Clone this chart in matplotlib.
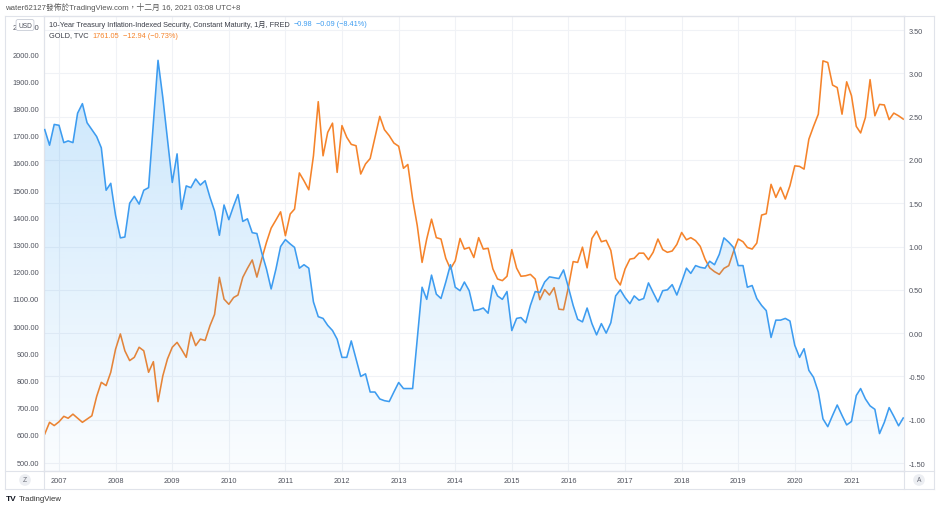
import numpy as np
import pandas as pd
import matplotlib
matplotlib.use("Agg")
import matplotlib.pyplot as plt
import matplotlib.dates as mdates
from matplotlib.lines import Line2D
from matplotlib.patches import Polygon

plt.rcParams['font.family'] = ['Liberation Sans', 'Noto Sans CJK TC']

# monthly data, Oct 2006 - Dec 2021
dates = pd.date_range("2006-10-01", periods=183, freq="MS")

# 10-Year TIPS yield (right axis)
tips = [
    2.35, 2.17, 2.41, 2.40, 2.20, 2.22, 2.20, 2.54, 2.65, 2.43, 2.35, 2.27,
    2.14, 1.65, 1.73, 1.36, 1.10, 1.11, 1.50, 1.58, 1.49, 1.65, 1.68, 2.43,
    3.15, 2.72, 2.24, 1.74, 2.07, 1.43, 1.70, 1.68, 1.78, 1.71, 1.76, 1.57,
    1.41, 1.13, 1.48, 1.31, 1.47, 1.60, 1.29, 1.32, 1.16, 1.15, 0.93, 0.74,
    0.51, 0.74, 1.00, 1.08, 1.03, 0.99, 0.75, 0.79, 0.75, 0.36, 0.19, 0.17,
    0.09, 0.03, -0.07, -0.28, -0.28, -0.09, -0.30, -0.50, -0.47, -0.68, -0.68, -0.76,
    -0.78, -0.79, -0.68, -0.57, -0.64, -0.64, -0.64, -0.07, 0.53, 0.39, 0.67, 0.45,
    0.40, 0.59, 0.79, 0.53, 0.49, 0.59, 0.49, 0.26, 0.27, 0.29, 0.23, 0.55,
    0.43, 0.39, 0.48, 0.03, 0.17, 0.18, 0.12, 0.32, 0.48, 0.47, 0.59, 0.65,
    0.64, 0.63, 0.73, 0.53, 0.32, 0.16, 0.13, 0.29, 0.11, -0.02, 0.11, 0.00,
    0.12, 0.43, 0.50, 0.41, 0.34, 0.43, 0.38, 0.40, 0.58, 0.47, 0.36, 0.49,
    0.50, 0.56, 0.44, 0.59, 0.75, 0.69, 0.78, 0.76, 0.75, 0.83, 0.79, 0.91,
    1.10, 1.05, 0.99, 0.78, 0.78, 0.53, 0.55, 0.40, 0.32, 0.26, -0.05, 0.15,
    0.15, 0.17, 0.14, -0.14, -0.28, -0.18, -0.43, -0.51, -0.68, -0.99, -1.08, -0.95,
    -0.83, -0.95, -1.06, -1.02, -0.72, -0.64, -0.76, -0.84, -0.88, -1.16, -1.03, -0.86,
    -0.96, -1.07, -0.98,
]

# gold price in USD (left axis)
gold = [
    603, 646, 634, 648, 668, 661, 676, 661, 646, 658, 670, 741,
    793, 781, 830, 915, 971, 909, 873, 885, 922, 909, 830, 869,
    722, 817, 879, 922, 940, 915, 885, 977, 928, 952, 947, 1001,
    1043, 1179, 1099, 1080, 1105, 1114, 1179, 1212, 1243, 1180, 1246, 1308,
    1360, 1390, 1420, 1332, 1412, 1430, 1563, 1534, 1501, 1626, 1825, 1626,
    1712, 1746, 1565, 1737, 1694, 1668, 1663, 1559, 1596, 1616, 1694, 1771,
    1722, 1700, 1673, 1661, 1580, 1594, 1467, 1369, 1234, 1320, 1393, 1325,
    1320, 1249, 1210, 1240, 1322, 1283, 1289, 1252, 1325, 1283, 1286, 1210,
    1173, 1167, 1183, 1281, 1213, 1183, 1185, 1190, 1173, 1097, 1134, 1114,
    1141, 1062, 1060, 1142, 1237, 1234, 1290, 1214, 1322, 1349, 1310, 1315,
    1278, 1175, 1151, 1210, 1246, 1249, 1268, 1268, 1244, 1271, 1320, 1281,
    1271, 1276, 1300, 1344, 1317, 1325, 1314, 1293, 1246, 1214, 1200, 1190,
    1212, 1222, 1273, 1320, 1310, 1289, 1283, 1305, 1408, 1413, 1521, 1473,
    1510, 1467, 1516, 1589, 1587, 1577, 1687, 1734, 1779, 1975, 1969, 1886,
    1877, 1779, 1898, 1847, 1734, 1710, 1767, 1906, 1773, 1815, 1813, 1759,
    1783, 1773, 1761,
]

gold_ticks = list(range(500, 2101, 100))
tips_ticks = [-1.5, -1.0, -0.5, 0.0, 0.5, 1.0, 1.5, 2.0, 2.5, 3.0, 3.5]
years = list(range(2007, 2022))

BLUE = "#3d9cf0"
ORANGE = "#f5832a"
GRID = "#f0f2f6"
FRAME = "#e0e3ea"
TXT = "#50535e"
FS = 5.3

W, H = 940, 510
fig = plt.figure(figsize=(9.4, 5.1), dpi=100)
fig.patch.set_facecolor("white")


def fx(px):
    return px / W


def fy(py):
    return 1 - py / H


L, R, T, B = 44, 904, 17, 472
ax = fig.add_axes([fx(L), fy(B), fx(R - L), (B - T) / H])
ax2 = ax.twinx()

# axis ranges worked out from the pixel positions of the tick labels
glim = (467, 2140)
tlim = (-1.592, 3.662)
t0 = mdates.date2num(pd.Timestamp("2007-01-01"))
ppd = 56.6 / 365.25
xlim = (t0 - 15 / ppd, t0 + 845 / ppd)

xs = mdates.date2num(dates)

# gold line on the bottom axes
ax.plot(xs, gold, color=ORANGE, lw=1.15, zorder=3)

# horizontal grid follows the right scale
for v in tips_ticks:
    g = glim[0] + (v - tlim[0]) * (glim[1] - glim[0]) / (tlim[1] - tlim[0])
    ax.axhline(g, color=GRID, lw=0.8, zorder=0)

# TIPS: gradient area + line
verts = [(xs[0], tlim[0])] + list(zip(xs, tips)) + [(xs[-1], tlim[0])]
poly = Polygon(verts, closed=True, facecolor="none", edgecolor="none")
ax2.add_patch(poly)
n = 256
rgba = np.zeros((n, 1, 4))
rgba[..., 0] = 33 / 255
rgba[..., 1] = 150 / 255
rgba[..., 2] = 243 / 255
rgba[..., 3] = np.linspace(0.02, 0.24, n).reshape(-1, 1)
im = ax2.imshow(rgba, extent=[xs[0], xs[-1], tlim[0], max(tips)],
                origin="lower", aspect="auto", zorder=1, interpolation="bilinear")
im.set_clip_path(poly)
ax2.plot(xs, tips, color=BLUE, lw=1.15, zorder=3)

ax.set_xlim(*xlim)
ax2.set_xlim(*xlim)
ax.set_ylim(*glim)
ax2.set_ylim(*tlim)

ax.set_yticks(gold_ticks)
ax.set_yticklabels([f"{v:.2f}" for v in gold_ticks])
ax2.set_yticks(tips_ticks)
ax2.set_yticklabels([f"{v:.2f}" for v in tips_ticks])
ax.set_xticks([mdates.date2num(pd.Timestamp(f"{y}-01-01")) for y in years])
ax.set_xticklabels([str(y) for y in years])
ax.grid(axis="x", color=GRID, lw=0.8, zorder=0)

ax.tick_params(axis="y", length=0, pad=3.5, labelsize=FS, labelcolor=TXT)
ax2.tick_params(axis="y", length=0, pad=3.5, labelsize=FS, labelcolor=TXT)
ax.tick_params(axis="x", length=0, pad=4.5, labelsize=FS, labelcolor=TXT)

for a in (ax, ax2):
    for s in a.spines.values():
        s.set_color(FRAME)
        s.set_linewidth(0.8)


# outer frame of the chart widget
def fline(x0, y0, x1, y1):
    fig.add_artist(Line2D([fx(x0), fx(x1)], [fy(y0), fy(y1)], color=FRAME, lw=0.8))


fline(5, 17, 934, 17)
fline(5, 17, 5, 490)
fline(934, 17, 934, 490)
fline(5, 490, 934, 490)
fline(5, 472, 934, 472)
fline(44, 472, 44, 490)
fline(904, 472, 904, 490)

# header and legend
fig.text(fx(5), fy(8), "water62127發佈於TradingView.com，十二月 16, 2021 03:08 UTC+8",
         fontsize=5.6, color="#555555", va="center", ha="left")

renderer = fig.canvas.get_renderer()


def seg_text(x, y, parts):
    for s, c in parts:
        t = fig.text(fx(x), fy(y), s, color=c, fontsize=FS, va="center", ha="left")
        bb = t.get_window_extent(renderer=renderer)
        x += bb.width + 4


seg_text(49, 25, [
    ("10-Year Treasury Inflation-Indexed Security, Constant Maturity, 1月, FRED", "#3b3e48"),
    ("−0.98", BLUE),
    ("−0.09 (−8.41%)", BLUE),
])
seg_text(49, 36, [
    ("GOLD, TVC", "#3b3e48"),
    ("1761.05", ORANGE),
    ("−12.94 (−0.73%)", ORANGE),
])

# currency badge sits over the middle of the top price label, as in the widget
fig.text(fx(25), fy(26), "USD", fontsize=4.8, color=TXT, ha="center", va="center",
         zorder=10,
         bbox=dict(boxstyle="round,pad=0.3", fc="white", ec="#c8ccd6", lw=0.6))
fig.text(fx(25), fy(481), "Z", fontsize=4.8, color="#6a6d78", ha="center", va="center",
         bbox=dict(boxstyle="circle,pad=0.35", fc="#eceef2", ec="none"))
fig.text(fx(919), fy(481), "A", fontsize=4.8, color="#6a6d78", ha="center", va="center",
         bbox=dict(boxstyle="circle,pad=0.35", fc="#eceef2", ec="none"))

fig.text(fx(6), fy(500), "TV", fontsize=6, fontweight="bold", color="#131722",
         ha="left", va="center")
fig.text(fx(19), fy(500), "TradingView", fontsize=5.6, color="#333333",
         ha="left", va="center")

fig.savefig("out.png", dpi=100, facecolor="white")
